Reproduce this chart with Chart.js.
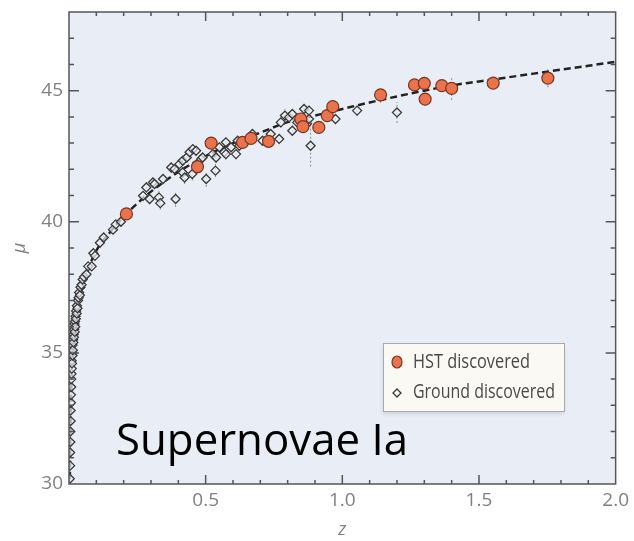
<!DOCTYPE html>
<html>
<head>
<meta charset="utf-8">
<script src="https://cdn.jsdelivr.net/npm/chart.js@4.4.1/dist/chart.umd.min.js"></script>
<style>
  html, body { margin: 0; padding: 0; background: #fff; }
  #wrap { position: relative; width: 634px; height: 541px; }
</style>
</head>
<body>
<div id="wrap"><canvas id="hubble-chart"></canvas></div>
<script>
// HST-discovered SNe: redshift, distance modulus, error
var hstZ   = [0.21, 0.47, 0.52, 0.635, 0.666, 0.73, 0.848, 0.856, 0.914, 0.945, 0.965, 1.14, 1.264, 1.30, 1.303, 1.364, 1.40, 1.552, 1.752];
var hstMu  = [40.3, 42.1, 43.0, 43.03, 43.18, 43.07, 43.92, 43.63, 43.6, 44.05, 44.39, 44.84, 45.22, 45.28, 44.68, 45.19, 45.09, 45.29, 45.48];
var hstErr = [0.15, 0.25, 0.2, 0.2, 0.2, 0.2, 0.2, 0.2, 0.2, 0.2, 0.25, 0.3, 0.2, 0.25, 0.25, 0.2, 0.45, 0.2, 0.35];

// ground-discovered SNe
var groundZ = [
  0.003, 0.004, 0.004, 0.005, 0.005, 0.006, 0.006, 0.007, 0.007, 0.008,
  0.008, 0.009, 0.010, 0.010, 0.011, 0.012, 0.013, 0.013, 0.014, 0.015,
  0.016, 0.017, 0.018, 0.019, 0.020, 0.021, 0.022, 0.023, 0.024, 0.025,
  0.026, 0.028, 0.029, 0.031, 0.033, 0.035, 0.037, 0.040, 0.042, 0.046,
  0.050, 0.055, 0.064, 0.070, 0.083, 0.089, 0.095, 0.113, 0.127, 0.161,
  0.171, 0.19, 0.271, 0.283, 0.295, 0.307, 0.313, 0.329, 0.334, 0.344,
  0.374, 0.386, 0.39, 0.404, 0.416, 0.416, 0.423, 0.431, 0.441, 0.451,
  0.453, 0.465, 0.483, 0.489, 0.502, 0.526, 0.536, 0.538, 0.55, 0.568,
  0.574, 0.574, 0.593, 0.611, 0.617, 0.623, 0.671, 0.708, 0.738, 0.769,
  0.775, 0.79, 0.805, 0.817, 0.817, 0.835, 0.86, 0.871, 0.878, 0.878,
  0.884, 0.975, 1.054, 1.20
];
var groundMu = [
  30.2, 30.7, 31.2, 31.6, 32.0, 32.4, 32.8, 33.1, 33.4, 33.7,
  34.0, 34.2, 34.4, 34.7, 34.6, 35.0, 34.9, 35.3, 35.1, 35.5,
  35.4, 35.7, 35.6, 35.9, 36.1, 35.8, 36.2, 36.0, 36.4, 36.3,
  36.6, 36.5, 36.8, 36.7, 37.0, 37.1, 37.3, 37.2, 37.5, 37.6,
  37.8, 37.9, 38.0, 38.3, 38.3, 38.8, 38.7, 39.2, 39.4, 39.7,
  39.9, 40.0, 40.99, 41.31, 40.87, 41.5, 41.44, 40.93, 40.71, 41.63,
  42.07, 42.01, 40.87, 42.2, 41.88, 42.33, 41.69, 42.45, 42.65, 41.82,
  42.77, 42.71, 42.39, 42.45, 41.63, 42.58, 41.95, 42.45, 42.84, 42.65,
  43.03, 42.58, 42.84, 42.58, 43.09, 42.9, 43.35, 43.09, 43.35, 43.16,
  43.79, 44.05, 43.98, 44.11, 43.47, 43.79, 44.3, 43.74, 44.24, 43.92,
  42.9, 43.92, 44.24, 44.17
];
var groundErr = [
  0.1, 0.1, 0.1, 0.1, 0.1, 0.1, 0.1, 0.1, 0.1, 0.1,
  0.1, 0.1, 0.1, 0.1, 0.1, 0.1, 0.1, 0.1, 0.1, 0.1,
  0.1, 0.1, 0.1, 0.1, 0.1, 0.1, 0.1, 0.1, 0.1, 0.1,
  0.1, 0.1, 0.1, 0.1, 0.1, 0.1, 0.1, 0.1, 0.1, 0.1,
  0.1, 0.1, 0.15, 0.15, 0.15, 0.15, 0.15, 0.15, 0.15, 0.15,
  0.15, 0.15, 0.2, 0.2, 0.2, 0.2, 0.2, 0.25, 0.25, 0.2,
  0.2, 0.2, 0.3, 0.2, 0.2, 0.2, 0.25, 0.2, 0.2, 0.25,
  0.2, 0.2, 0.2, 0.2, 0.3, 0.2, 0.25, 0.2, 0.2, 0.2,
  0.2, 0.2, 0.2, 0.2, 0.2, 0.2, 0.2, 0.2, 0.2, 0.2,
  0.2, 0.25, 0.2, 0.2, 0.2, 0.2, 0.2, 0.2, 0.2, 0.2,
  0.8, 0.2, 0.2, 0.4
];

// best-fit cosmology curve
var modelZ  = [0.003, 0.005, 0.008, 0.012, 0.02, 0.03, 0.05, 0.07, 0.1, 0.15, 0.2, 0.25, 0.3, 0.4, 0.5, 0.6, 0.7, 0.8, 0.9, 1.0, 1.1, 1.2, 1.3, 1.4, 1.5, 1.6, 1.7, 1.8, 1.9, 2.0];
var modelMu = [30.2, 31.7, 33.5, 34.9, 35.9, 36.7, 37.6, 38.2, 38.9, 39.6, 40.2, 40.7, 41.15, 41.9, 42.5, 43.0, 43.4, 43.8, 44.05, 44.3, 44.55, 44.78, 45.0, 45.2, 45.35, 45.5, 45.65, 45.8, 45.95, 46.1];

var xTickLabels = [0.5, 1.0, 1.5, 2.0];
var yTickLabels = [30, 35, 40, 45];
var legendLabels = ["HST discovered", "Ground discovered"];
var chartLabel = "Supernovae Ia";

var HST_FILL = "#e8734c", HST_EDGE = "#7a3520";
var GROUND_FILL = "rgba(236,240,247,0.7)", GROUND_EDGE = "#3a3a3a";

function zip(xs, ys) {
  var out = [];
  for (var i = 0; i < xs.length; i++) out.push({ x: xs[i], y: ys[i] });
  return out;
}

// light panel behind the plot area
var panelBg = {
  id: "panelBg",
  beforeDraw: function (chart) {
    var a = chart.chartArea, ctx = chart.ctx;
    ctx.save();
    ctx.fillStyle = "#e9eef6";
    ctx.fillRect(a.left, a.top, a.right - a.left, a.bottom - a.top);
    ctx.restore();
  },
};

// dotted vertical error bars
var errorBars = {
  id: "errorBars",
  beforeDatasetsDraw: function (chart) {
    var ctx = chart.ctx, xs = chart.scales.x, ys = chart.scales.y;
    var sets = [[hstZ, hstMu, hstErr], [groundZ, groundMu, groundErr]];
    ctx.save();
    ctx.strokeStyle = "#8c8f96";
    ctx.lineWidth = 1;
    ctx.setLineDash([2, 2]);
    sets.forEach(function (s) {
      for (var i = 0; i < s[0].length; i++) {
        var px = xs.getPixelForValue(s[0][i]);
        ctx.beginPath();
        ctx.moveTo(px, ys.getPixelForValue(s[1][i] - s[2][i]));
        ctx.lineTo(px, ys.getPixelForValue(s[1][i] + s[2][i]));
        ctx.stroke();
      }
    });
    ctx.restore();
  },
};

// box frame with inward ticks on all four sides
var frameTicks = {
  id: "frameTicks",
  afterDatasetsDraw: function (chart) {
    var a = chart.chartArea, ctx = chart.ctx, xs = chart.scales.x, ys = chart.scales.y;
    ctx.save();
    ctx.strokeStyle = "#555";
    ctx.lineWidth = 1.5;
    ctx.strokeRect(a.left, a.top, a.right - a.left, a.bottom - a.top);
    ctx.beginPath();
    var i, v, p, len;
    for (i = 1; i < 20; i++) {
      v = i / 10;
      p = xs.getPixelForValue(v);
      len = i % 5 === 0 ? 9 : 4;
      ctx.moveTo(p, a.bottom); ctx.lineTo(p, a.bottom - len);
      ctx.moveTo(p, a.top); ctx.lineTo(p, a.top + len);
    }
    for (v = 31; v < 48; v++) {
      p = ys.getPixelForValue(v);
      len = v % 5 === 0 ? 10 : 5;
      ctx.moveTo(a.left, p); ctx.lineTo(a.left + len, p);
      ctx.moveTo(a.right, p); ctx.lineTo(a.right - len, p);
    }
    ctx.stroke();
    ctx.restore();
  },
};

// big caption and the legend box
var overlay = {
  id: "overlay",
  afterDraw: function (chart) {
    var ctx = chart.ctx;
    ctx.save();
    ctx.fillStyle = "#000";
    ctx.font = "44px 'Open Sans', sans-serif";
    ctx.textBaseline = "alphabetic";
    ctx.fillText(chartLabel, 116, 455, 292);

    // legend
    ctx.shadowColor = "rgba(0,0,0,0.12)";
    ctx.shadowBlur = 4;
    ctx.shadowOffsetY = 3;
    ctx.fillStyle = "#fbf9f4";
    ctx.fillRect(383, 343, 181, 68);
    ctx.shadowColor = "transparent";
    ctx.strokeStyle = "#a9a9a9";
    ctx.lineWidth = 1;
    ctx.strokeRect(383.5, 343.5, 181, 68);

    ctx.beginPath();
    ctx.ellipse(397, 362, 5, 6, 0, 0, Math.PI * 2);
    ctx.fillStyle = HST_FILL;
    ctx.fill();
    ctx.strokeStyle = HST_EDGE;
    ctx.lineWidth = 1.2;
    ctx.stroke();

    ctx.beginPath();
    ctx.moveTo(397, 389); ctx.lineTo(401, 393); ctx.lineTo(397, 397); ctx.lineTo(393, 393);
    ctx.closePath();
    ctx.fillStyle = "#fbf9f4";
    ctx.fill();
    ctx.strokeStyle = GROUND_EDGE;
    ctx.lineWidth = 1.3;
    ctx.stroke();

    ctx.fillStyle = "#4a4a4a";
    ctx.font = "20px 'Open Sans', sans-serif";
    ctx.textBaseline = "middle";
    ctx.fillText(legendLabels[0], 413, 362, 117);
    ctx.fillText(legendLabels[1], 413, 392, 142);
    ctx.restore();
  },
};

var axisFont = { family: "'Open Sans', sans-serif", size: 19 };
var titleFont = { family: "'Open Sans', sans-serif", size: 18, style: "italic" };

new Chart(document.getElementById("hubble-chart").getContext("2d"), {
  type: "scatter",
  data: {
    datasets: [
      {
        label: legendLabels[0],
        data: zip(hstZ, hstMu),
        pointStyle: "circle",
        pointRadius: 6,
        backgroundColor: HST_FILL,
        borderColor: HST_EDGE,
        borderWidth: 1.2,
      },
      {
        label: legendLabels[1],
        data: zip(groundZ, groundMu),
        pointStyle: "rectRot",
        pointRadius: 4.5,
        backgroundColor: GROUND_FILL,
        borderColor: GROUND_EDGE,
        borderWidth: 1.3,
      },
      {
        label: "model",
        data: zip(modelZ, modelMu),
        showLine: true,
        pointRadius: 0,
        borderColor: "#222",
        borderWidth: 2.5,
        borderDash: [7, 4],
        cubicInterpolationMode: "monotone",
        fill: false,
      },
    ],
  },
  options: {
    responsive: true,
    maintainAspectRatio: false,
    animation: false,
    layout: { padding: { top: 12, right: 16, left: 0, bottom: 0 } },
    plugins: {
      legend: { display: false },
      tooltip: { enabled: false },
    },
    scales: {
      x: {
        type: "linear",
        min: 0,
        max: 2,
        afterBuildTicks: function (s) { s.ticks = xTickLabels.map(function (v) { return { value: v }; }); },
        afterFit: function (s) { s.height = 57; },
        grid: { display: false, drawTicks: false },
        border: { display: false },
        ticks: {
          color: "#808080",
          font: axisFont,
          padding: 5,
          maxRotation: 0,
          autoSkip: false,
          callback: function (v) { return Number(v).toFixed(1); },
        },
        title: { display: true, text: "z", color: "#808080", font: titleFont, padding: 0 },
      },
      y: {
        type: "linear",
        min: 30,
        max: 48,
        afterBuildTicks: function (s) { s.ticks = yTickLabels.map(function (v) { return { value: v }; }); },
        // fixed width; no extra room reserved above the top label
        afterFit: function (s) { s.width = 69; s.paddingTop = 0; s.paddingBottom = 0; },
        grid: { display: false, drawTicks: false },
        border: { display: false },
        ticks: {
          color: "#808080",
          font: axisFont,
          padding: 6,
          autoSkip: false,
          callback: function (v) { return String(v); },
        },
        title: { display: true, text: "μ", color: "#808080", font: titleFont, padding: { top: 9, bottom: 0 } },
      },
    },
  },
  plugins: [panelBg, errorBars, frameTicks, overlay],
});
</script>
</body>
</html>
